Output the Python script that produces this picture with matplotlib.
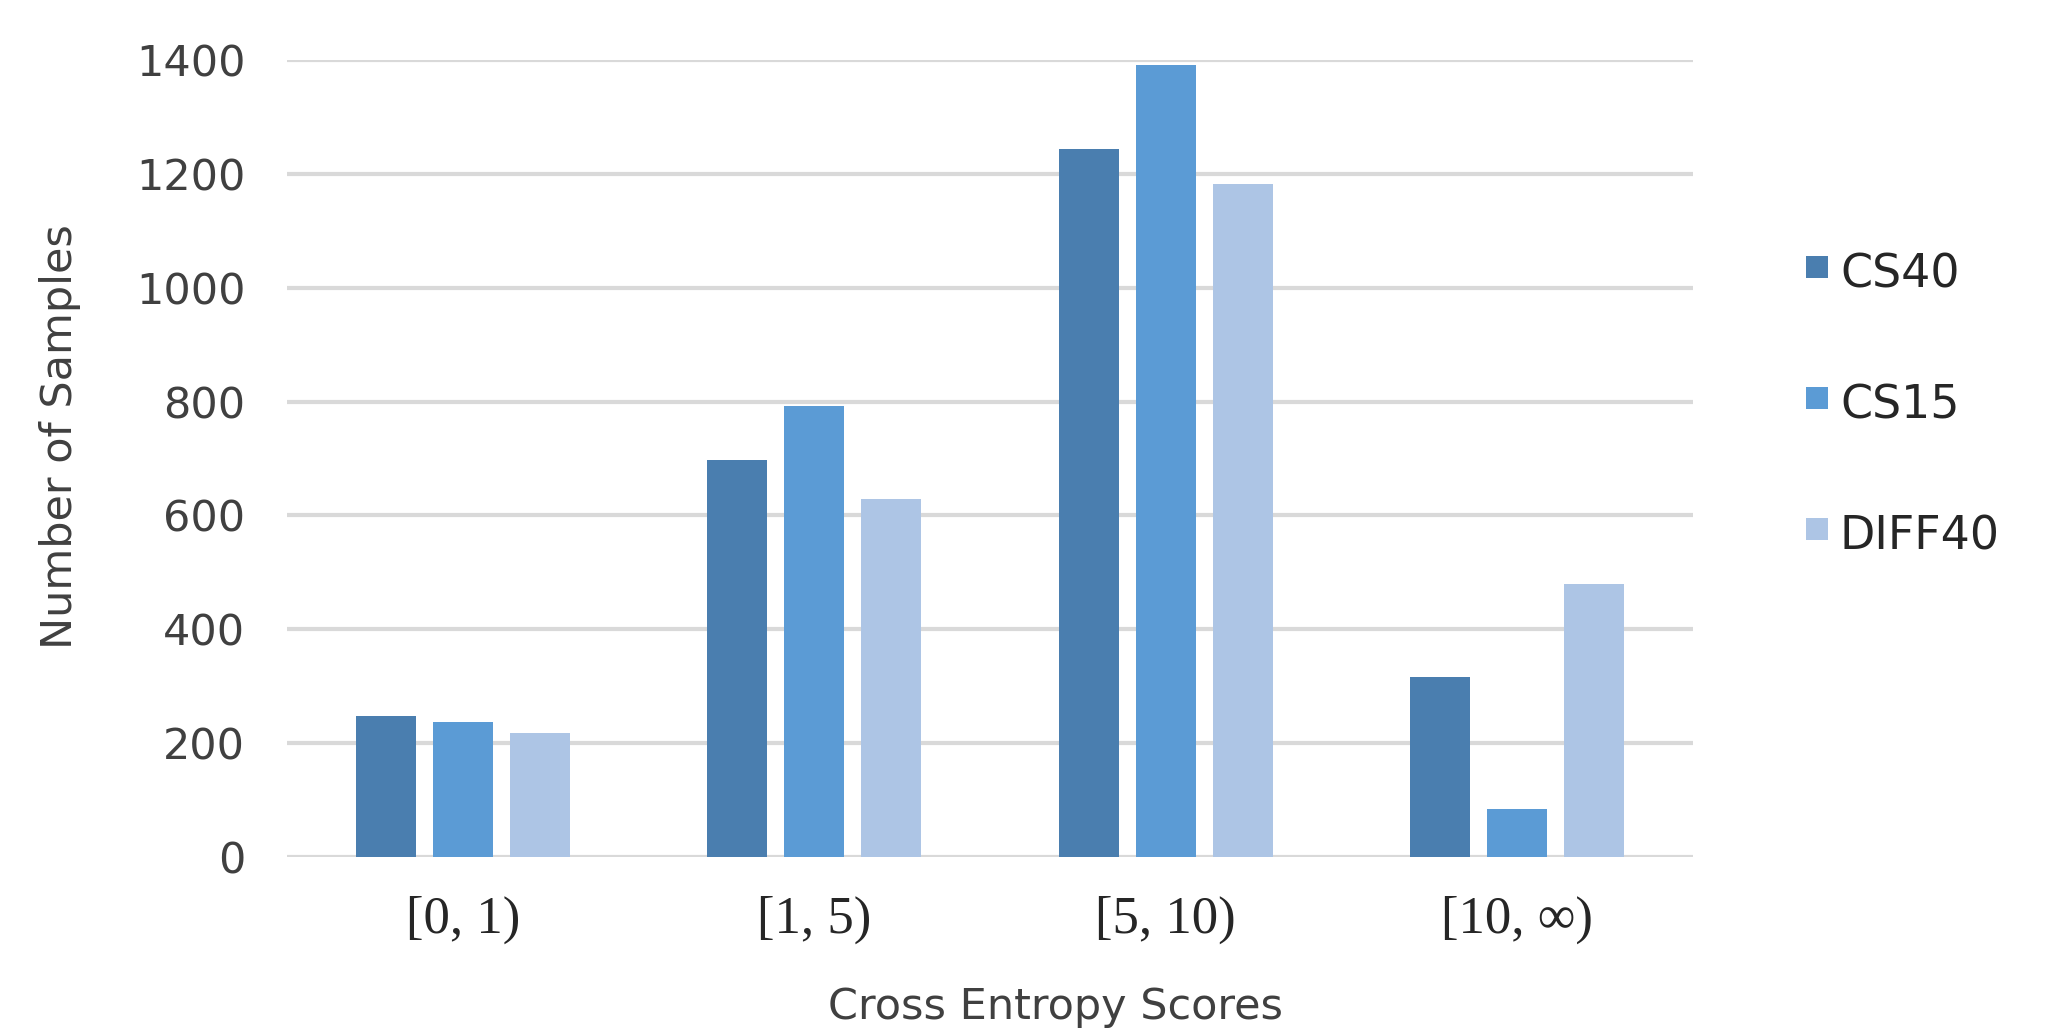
import matplotlib
matplotlib.use("Agg")
import matplotlib.pyplot as plt
import numpy as np
from matplotlib.patches import Rectangle

categories = ["[0, 1)", "[1, 5)", "[5, 10)", "[10, ∞)"]
series_names = ["CS40", "CS15", "DIFF40"]
cs40 = [247, 698, 1243, 316]
cs15 = [237, 793, 1392, 84]
diff40 = [217, 629, 1183, 479]
y_ticks = [0, 200, 400, 600, 800, 1000, 1200, 1400]

colors = ["#4A7EAF", "#5B9BD5", "#ADC5E5"]

W, H = 2046, 1032
fig = plt.figure(figsize=(W / 100, H / 100), dpi=100)
ax = fig.add_axes([287 / W, 1 - 857 / H, (1693 - 287) / W, (857 - 60) / H])

x = np.arange(len(categories))
width = 0.171
step = 0.219
for i, (vals, c) in enumerate(zip([cs40, cs15, diff40], colors)):
    ax.bar(x + (i - 1) * step, vals, width=width, color=c, zorder=3)

ax.set_xlim(-0.5, len(categories) - 0.5)
ax.set_ylim(0, 1400)
ax.set_yticks(y_ticks)
ax.set_yticklabels([str(t) for t in y_ticks], fontsize=31, color="#404040",
                   family="DejaVu Sans")
ax.set_xticks(x)
ax.set_xticklabels(categories, fontsize=38, color="#262626",
                   family=["Liberation Serif", "DejaVu Serif"])
ax.tick_params(axis="both", length=0)
ax.tick_params(axis="y", pad=30)
ax.tick_params(axis="x", pad=28)
for s in ax.spines.values():
    s.set_visible(False)
ax.yaxis.grid(True, color="#d9d9d9", linewidth=3, zorder=0)
ax.set_axisbelow(True)

fig.text(1056 / W, 1 - 1007 / H, "Cross Entropy Scores", ha="center", va="center",
         fontsize=31, color="#404040")
fig.text(60 / W, 1 - 437 / H, "Number of Samples", ha="center", va="center",
         rotation=90, fontsize=31, color="#404040")

# legend
leg_y = [256, 387, 518]
for name, c, yy in zip(series_names, colors, leg_y):
    fig.patches.append(Rectangle((1806 / W, 1 - (yy + 22) / H), 22 / W, 22 / H,
                                 transform=fig.transFigure, facecolor=c,
                                 edgecolor="none", figure=fig))
    fig.text(1840 / W, 1 - (yy + 19) / H, name, ha="left", va="center",
             fontsize=33, color="#262626")

fig.savefig("out.png", dpi=100, facecolor="white")
